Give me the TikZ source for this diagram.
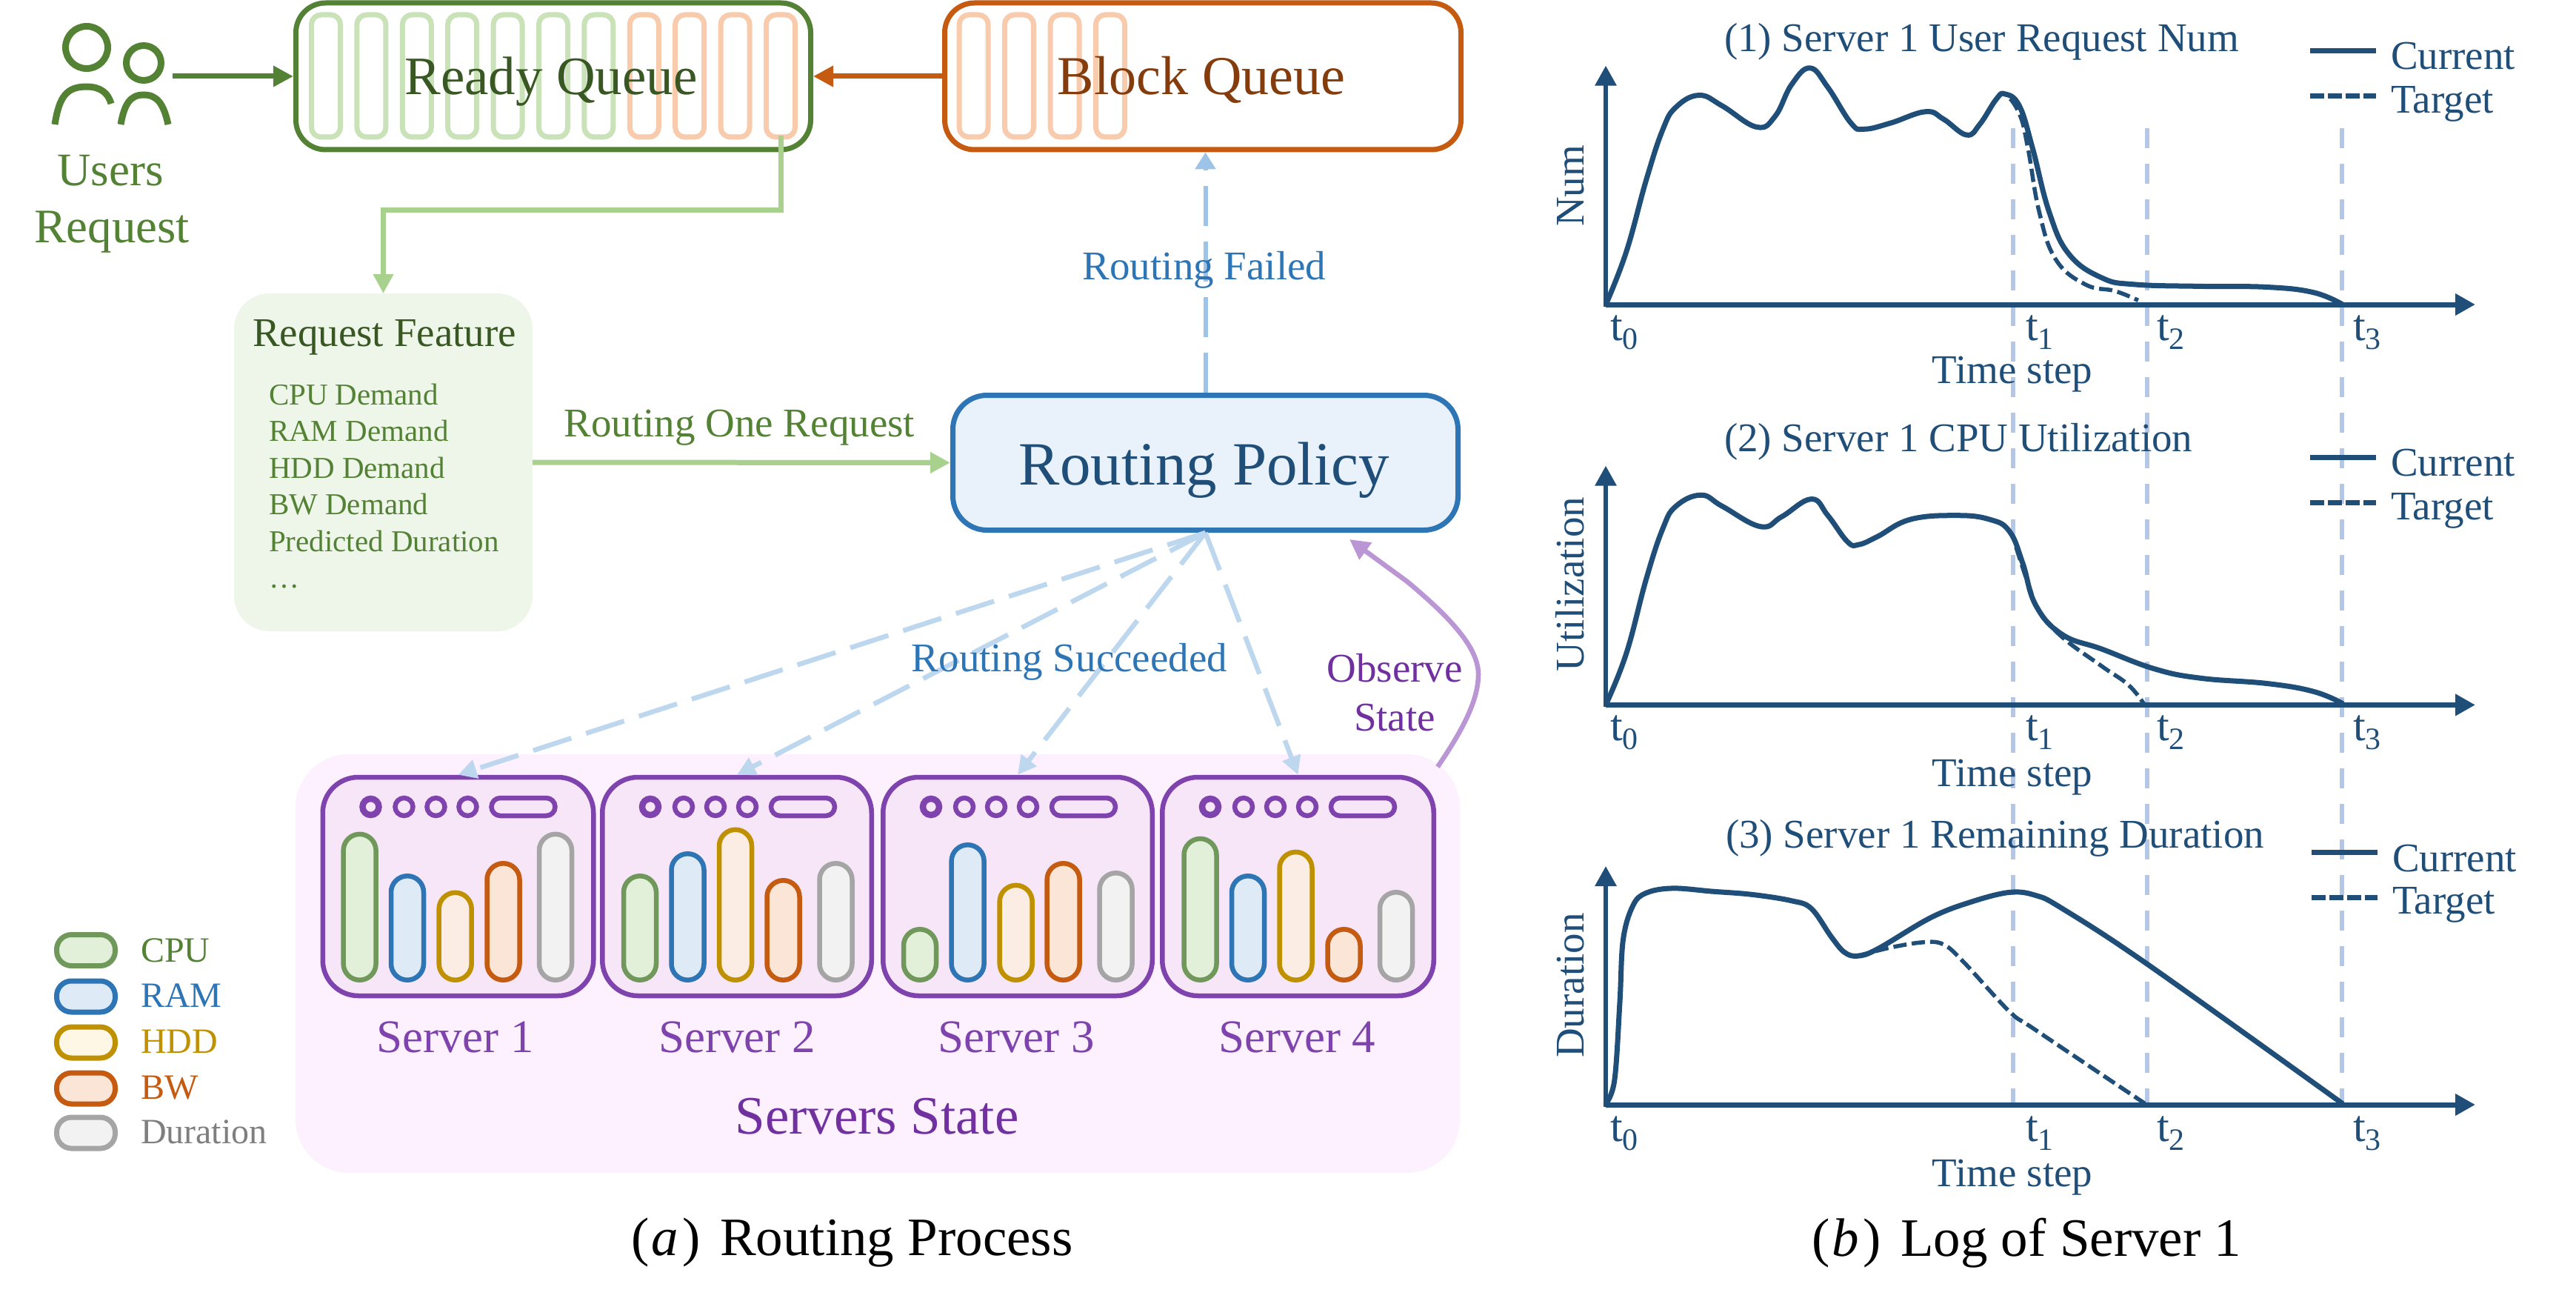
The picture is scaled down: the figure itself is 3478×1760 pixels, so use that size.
\documentclass[tikz,border=0pt]{standalone}
\usepackage{fontspec}
\setmainfont{Liberation Serif}
\usetikzlibrary{arrows.meta}
\newcommand{\fs}[1]{\fontsize{#1}{#1}\selectfont}
\newcommand{\tsb}[1]{\fs{30}t\raisebox{-0.2em}{\fs{21}#1}}
\definecolor{gD}{HTML}{548235}\definecolor{gDD}{HTML}{385723}\definecolor{gL}{HTML}{A9D18E}
\definecolor{gC}{HTML}{C9E2B8}\definecolor{oC}{HTML}{F8CBAD}\definecolor{oD}{HTML}{C55A11}
\definecolor{oDD}{HTML}{843C0C}\definecolor{bD}{HTML}{2E75B6}\definecolor{bF}{HTML}{E9F1FA}
\definecolor{bN}{HTML}{1F4E79}\definecolor{bL}{HTML}{BDD7EE}\definecolor{bM}{HTML}{9DC3E6}
\definecolor{bV}{HTML}{B4C7E7}\definecolor{rfF}{HTML}{EEF5E9}\definecolor{pP}{HTML}{FDF0FF}
\definecolor{pS}{HTML}{F6E6F8}\definecolor{pD}{HTML}{7F43AD}\definecolor{pT}{HTML}{7030A0}
\definecolor{pL}{HTML}{BA96D4}
\definecolor{cpuC}{HTML}{70985A}\definecolor{cpuF}{HTML}{E2F0D9}
\definecolor{ramF}{HTML}{DEEBF7}
\definecolor{hddC}{HTML}{BF9000}\definecolor{hddF}{HTML}{FFF7E5}\definecolor{hddG}{HTML}{FBEDE3}
\definecolor{bwF}{HTML}{FBE5D6}
\definecolor{durC}{HTML}{A5A5A5}\definecolor{durF}{HTML}{F2F2F2}\definecolor{durT}{HTML}{7F7F7F}
\tikzset{
  wh/.style 2 args={minimum width=#1*0.5pt,minimum height=#2*0.5pt,inner sep=0pt},
  lbl/.style={inner sep=0pt,outer sep=0pt,anchor=base},
  lblw/.style={inner sep=0pt,outer sep=0pt,anchor=base west},
  t41/.style={font=\fs{20.5}},t48/.style={font=\fs{24}},t55/.style={font=\fs{27.5}},
  t62/.style={font=\fs{31.5}},t72/.style={font=\fs{36.5}},t83/.style={font=\fs{41.5}},
  tipbig/.style={-{Triangle[length=13.5pt,width=13.5pt]}},
  tipmid/.style={-{Triangle[length=13pt,width=13pt]}},
  queuebox/.style={draw=#1,fill=white,line width=3.5pt,rounded corners=20pt},
  slot/.style={draw=#1,line width=3.5pt,rounded corners=6.5pt,wh={39}{165}},
  baseB/.style={line width=3.25pt,rounded corners=11pt,minimum width=22pt,inner sep=0pt,anchor=south},
  barcpu/.style={baseB,draw=cpuC,fill=cpuF},
  barram/.style={baseB,draw=bD,fill=ramF},
  barhdd/.style={baseB,draw=hddC,fill=hddG},
  barbw/.style={baseB,draw=oD,fill=bwF},
  bardur/.style={baseB,draw=durC,fill=durF},
  legpill/.style 2 args={draw=#1,fill=#2,line width=3.5pt,rounded corners=10pt,wh={79}{42}},
  srv/.style={draw=pD,fill=pS,line width=3.25pt,rounded corners=24pt,minimum height=147.5pt,inner sep=0pt},
  dot/.style={draw=pD,circle,line width=3.25pt,minimum size=12pt,inner sep=0pt},
  dotheavy/.style={dot,line width=4.25pt,minimum size=11pt},
  pillb/.style={draw=pD,line width=3.25pt,rounded corners=6pt,wh={86}{24}},
  dashblue/.style={draw=bL,line width=3.25pt,dash pattern=on 27pt off 10.5pt,-{Triangle[length=12.5pt,width=12.5pt]}},
  axisx/.style={draw=bN,line width=3.5pt,-{Triangle[length=13.5pt,width=14pt]}},
  axisy/.style={draw=bN,line width=3pt,-{Triangle[length=13.5pt,width=14pt]}},
  cur/.style={draw=bN,line width=3.5pt,line join=round,line cap=round},
  tar/.style={draw=bN,line width=2.75pt,dash pattern=on 9pt off 3.5pt},
  vdash/.style={draw=bV,line width=3pt,dash pattern=on 13.5pt off 10.5pt},
  charttxt/.style={text=bN},
}
\begin{document}
\begin{tikzpicture}[x=0.5pt,y=-0.5pt]
\useasboundingbox (0,0) rectangle (3478,1760);
\fill[white] (0,0) rectangle (3478,1760);

%--- users icon
\begin{scope}[draw=gD,line width=4.5pt]
  \draw (117,64) circle [radius=28.5];
  \draw (194,85) circle [radius=23.5];
  \draw (74,168) .. controls (80,130) and (90,117) .. (117,117) .. controls (135,117) and (146,125) .. (150,140);
  \draw (163,168) .. controls (168,140) and (176,128) .. (194,128) .. controls (212,128) and (221,140) .. (227,168);
\end{scope}
\coordinate (usersout) at (233,103);
\node[lbl,t62,text=gD] (usersA) at (149,250) {Users};
\node[lbl,font=\fs{32.5},text=gD] (usersB) at (151,327) {Request};

%--- queues
\node[queuebox=gD,wh={695}{198}] (rq) at (747,103) {};
\foreach \i in {1,...,7} \node[slot=gC] (c\i) at (440+61.4*\i-61.4,102.5) {};
\foreach \i in {8,...,11} \node[slot=oC] (c\i) at (440+61.4*\i-61.4,102.5) {};
\node[lbl,t72,text=gDD] (rqt) at (744,128) {Ready Queue};

\node[queuebox=oD,wh={697}{198}] (bq) at (1624,103) {};
\foreach \x [count=\i] in {1314.6,1376,1437.6,1499} \node[slot=oC] (d\i) at (\x,102.5) {};
\node[lbl,font=\fs{37},text=oDD] (bqt) at (1622,128) {Block Queue};

\draw[gD,line width=3.5pt,tipbig] (usersout) -- (rq.west);
\draw[oD,line width=3.5pt,tipbig] (bq.west) -- (rq.east);

%--- request feature
\node[fill=rfF,rounded corners=24pt,wh={403}{456},outer sep=0pt] (rf) at (517.5,624) {};
\node[lbl,t55,text=gDD] (rft) at (519,467) {Request Feature};
\foreach \y/\s [count=\i] in {546/CPU Demand,595/RAM Demand,645/HDD Demand,694/BW Demand,744/Predicted Duration,793/…}
  \node[lblw,t41,text=gD] (rfl\i) at (363,\y) {\s};
\draw[gL,line width=3.5pt,tipmid] ([yshift=2.5pt]c11.south) -- ++(0,99.5) -| (rf.north);

%--- routing policy
\node[draw=bD,fill=bF,line width=3.5pt,rounded corners=23pt,wh={682}{182}] (rp) at (1627.5,624.5) {};
\node[lbl,t83,text=bN] (rpt) at (1626,654.5) {Routing Policy};
\draw[gL,line width=3.5pt,tipbig] (rf.east) -- (rp.west);
\node[lblw,t55,text=gD] (rot) at (761.5,589) {Routing One Request};

%--- panel and servers
\node[fill=pP,rounded corners=36pt,wh={1572}{565},outer sep=0pt] (panel) at (1185,1300.5) {};
\foreach \l/\w [count=\i] in {432.5/372,810/370,1189/370,1566/373}{
  \node[srv,minimum width={(\w-6.5)*0.5pt}] (s\i) at (\l+\w/2,1196.5) {};
  \node[dotheavy] (s\i d1) at (\l+68,1089) {};
  \foreach \dx [count=\j from 2] in {113,156,199}
    \node[dot] (s\i d\j) at (\l+\dx,1089) {};
  \node[pillb] (s\i p) at (\l+274,1089) {};
}
\foreach \st/\x/\t [count=\i] in {
  barcpu/485.6/1122.6,barram/550/1179,barhdd/614.7/1201.5,barbw/679.5/1162,bardur/750/1122.6,
  barcpu/864/1179,barram/928.5/1149,barhdd/993/1116.5,barbw/1057.5/1185,bardur/1128.5/1162,
  barcpu/1242/1251,barram/1306.6/1137,barhdd/1371.7/1191.6,barbw/1435.6/1162,bardur/1506.6/1175,
  barcpu/1620.5/1128.7,barram/1685/1179,barhdd/1749.5/1146.7,barbw/1814.5/1251,bardur/1885/1201}
  \node[\st,minimum height={(1319.5-\t)*0.5pt}] (b\i) at (\x,1326) {};
\foreach \x/\s [count=\i] in {614.7/Server 1,995/Server 2,1372/Server 3,1751.6/Server 4}
  \node[lbl,t62,text=pD] (sl\i) at (\x,1420.5) {\s};
\node[lbl,font=\fs{36.5},text=pT] (panelt) at (1184,1530.5) {Servers State};

%--- routing arrows
\draw[draw=bM,line width=3pt,dash pattern=on 27pt off 10.5pt,-{Triangle[length=11.5pt,width=13.5pt]}] (rp.north) -- (rp.north |- bq.south);
\node[lbl,t55,text=bD] (rft2) at (1626,377) {Routing Failed};
\foreach \i in {1,...,4} \draw[dashblue] (rp.south) -- (s\i.north);
\node[lbl,t55,text=bD] (rst) at (1444,906) {Routing Succeeded};

\coordinate (obs) at (1941,1035);
\coordinate (rptip) at (1822,728);
\draw[pL,line width=3.25pt,-{Triangle[length=13.5pt,width=13.5pt]}] (obs) .. controls (1975,985) and (1996,945) .. (1996,910) .. controls (1996,875) and (1960,835) .. (1900,785) -- (rptip);
\node[lbl,t55,text=pT] (ob1) at (1883,920) {Observe};
\node[lbl,t55,text=pT] (ob2) at (1883,986) {State};

%--- legend
\foreach \fc/\ff/\tc/\s/\yc/\yb [count=\i] in {
   cpuC/cpuF/gD/CPU/1282.5/1298,
   bD/ramF/bD/RAM/1345/1359,
   hddC/hddF/hddC/HDD/1407/1421,
   oD/bwF/oD/BW/1469/1483,
   durC/durF/durT/Duration/1529/1543}{
  \node[legpill={\fc}{\ff}] (lg\i) at (116,\yc) {};
  \node[lblw,t48,text=\tc] (lgt\i) at (190,\yb) {\s};
}

%--- captions
\node[lblw,t72] (capa) at (852,1694) {(\hspace{1.5pt}\textit{a}\hspace{3pt})\hspace{13pt}Routing Process};
\node[lblw,t72] (capb) at (2446,1695.5) {(\hspace{1.5pt}\textit{b}\hspace{3pt})\hspace{13pt}Log of Server 1};

%--- right side: vertical guides
\foreach \x in {2717.5,2898.5,3162} \draw[vdash] (\x,173) -- (\x,1489);

%--- chart 1
\draw[axisx] (2168,411) -- (3342,411);
\draw[axisy] (2168,414) -- (2168,88.6);
\begin{scope}[shift={(2080,0)},xscale=0.8916,yscale=0.35714]
  \draw[tar] plot[smooth,tension=.7] coordinates {(690,375) (703,355) (725,430) (738,560) (755,800) (780,980) (825,1075) (870,1100) (905,1135)};
  \draw[cur] plot[smooth,tension=.7] coordinates {(99,1150) (130,950) (160,680) (185,490) (205,405) (240,360) (275,400) (327,480) (355,440) (380,320) (408,257) (435,330) (470,465) (490,488) (530,465) (583,422) (610,450) (645,510) (665,470) (690,375) (703,355) (725,400) (745,560) (770,800) (800,960) (850,1050) (900,1075) (1000,1082) (1100,1085) (1170,1105) (1214,1150)};
\end{scope}
\node[lblw,t55,charttxt] (ti1) at (2328,69.6) {(1) Server 1 User Request Num};
\node[lbl,t55,charttxt,rotate=90] (yl1) at (2138,251) {Num};
\draw[bN,line width=3.5pt] (3119,68.6) -- (3208,68.6);
\draw[bN,line width=3.5pt,dash pattern=on 9.5pt off 2.5pt] (3119,130) -- (3208,130);
\node[lblw,t55,charttxt] (cu1) at (3228,93.6) {Current};
\node[lblw,t55,charttxt] (ta1) at (3228,153) {Target};
\foreach \x/\n in {2174/0,2735/1,2912/2,3177/3} \node[lblw,charttxt] (tk1\n) at (\x,459) {\tsb{\n}};
\node[lbl,t55,charttxt] (ts1) at (2717,517) {Time step};

%--- chart 2
\draw[axisx] (2168,951.4) -- (3342,951.4);
\draw[axisy] (2168,954.4) -- (2168,628.6);
\begin{scope}[shift={(2080,560)},xscale=0.8916,yscale=0.35714]
  \draw[tar] plot[smooth,tension=.7] coordinates {(720,500) (740,650) (755,740) (790,840) (850,950) (890,1020) (913,1090)};
  \draw[cur] plot[smooth,tension=.7] coordinates {(99,1094) (130,900) (160,620) (185,430) (205,345) (243,303) (275,345) (333,422) (365,385) (410,318) (435,380) (465,480) (482,490) (510,460) (560,395) (630,380) (680,395) (710,440) (730,560) (750,720) (790,830) (850,885) (930,960) (1000,995) (1100,1015) (1170,1045) (1214,1090)};
\end{scope}
\node[lblw,t55,charttxt] (ti2) at (2328,609) {(2) Server 1 CPU Utilization};
\node[lbl,t55,charttxt,rotate=90] (yl2) at (2138,788.6) {Utilization};
\draw[bN,line width=3.5pt] (3119,617) -- (3208,617);
\draw[bN,line width=3.5pt,dash pattern=on 9.5pt off 2.5pt] (3119,678) -- (3208,678);
\node[lblw,t55,charttxt] (cu2) at (3228,642) {Current};
\node[lblw,t55,charttxt] (ta2) at (3228,701) {Target};
\foreach \x/\n in {2174/0,2735/1,2912/2,3177/3} \node[lblw,charttxt] (tk2\n) at (\x,999) {\tsb{\n}};
\node[lbl,t55,charttxt] (ts2) at (2717,1061) {Time step};

%--- chart 3
\draw[axisx] (2168,1491) -- (3342,1491);
\draw[axisy] (2168,1494) -- (2168,1169);
\begin{scope}[shift={(2080,1100)},xscale=0.8916,yscale=0.42088]
  \draw[tar] plot[smooth,tension=.6] coordinates {(480,452) (530,425) (580,408) (610,415) (640,470) (710,630) (750,690) (915,925)};
  \draw[cur] plot[smooth,tension=.6] coordinates {(99,925) (112,850) (120,600) (125,400) (140,290) (160,250) (200,235) (260,245) (320,255) (380,275) (410,300) (440,390) (460,440) (480,452) (510,430) (590,330) (650,280) (710,248) (750,258) (790,300) (920,480) (1214,925)};
\end{scope}
\node[lblw,t55,charttxt] (ti3) at (2330,1144) {(3) Server 1 Remaining Duration};
\node[lbl,t55,charttxt,rotate=90] (yl3) at (2138,1330) {Duration};
\draw[bN,line width=3.5pt] (3121,1150) -- (3210,1150);
\draw[bN,line width=3.5pt,dash pattern=on 9.5pt off 2.5pt] (3121,1211) -- (3210,1211);
\node[lblw,t55,charttxt] (cu3) at (3230,1176) {Current};
\node[lblw,t55,charttxt] (ta3) at (3230,1233) {Target};
\foreach \x/\n in {2174/0,2735/1,2912/2,3177/3} \node[lblw,charttxt] (tk3\n) at (\x,1540) {\tsb{\n}};
\node[lbl,t55,charttxt] (ts3) at (2717,1601) {Time step};
\end{tikzpicture}
\end{document}
